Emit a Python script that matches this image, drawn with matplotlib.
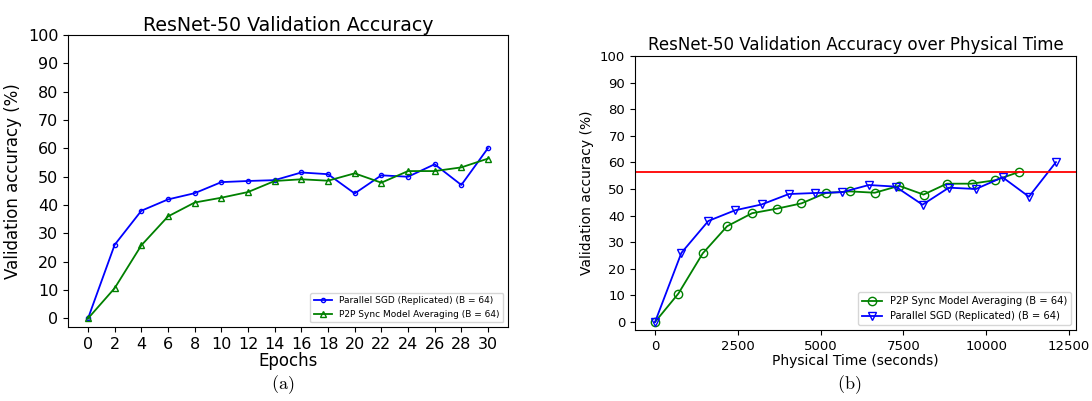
import matplotlib
matplotlib.use('Agg')
import matplotlib.pyplot as plt

# Validation accuracy (%) per epoch
epochs = [0, 2, 4, 6, 8, 10, 12, 14, 16, 18, 20, 22, 24, 26, 28, 30]
sgd_acc = [0.0, 26.0, 38.0, 42.0, 44.2, 48.1, 48.5, 48.8, 51.5, 50.9,
           44.1, 50.5, 50.0, 54.4, 47.1, 60.1]
p2p_acc = [0.0, 10.7, 25.8, 36.0, 40.9, 42.6, 44.6, 48.5, 49.1, 48.6,
           51.2, 47.9, 52.0, 52.0, 53.3, 56.4]

# Wall-clock time (seconds) at which each evaluation happened
p2p_time = [0, 705, 1440, 2176, 2931, 3676, 4422, 5157, 5892, 6638,
            7373, 8108, 8813, 9559, 10274, 10989]
sgd_time = [0, 796, 1611, 2417, 3223, 4039, 4834, 5650, 6456, 7262,
            8078, 8873, 9690, 10496, 11291, 12107]

fig = plt.figure(figsize=(10.92, 4.01), dpi=100)

# (a) accuracy vs epochs
ax1 = fig.add_axes([68/1092, 1-327/401, 440/1092, 292/401])
ax1.plot(epochs, sgd_acc, color='blue', marker='o', ms=3, mfc='none',
         lw=1.3, label='Parallel SGD (Replicated) (B = 64)')
ax1.plot(epochs, p2p_acc, color='green', marker='^', ms=4, mfc='none',
         lw=1.3, label='P2P Sync Model Averaging (B = 64)')
ax1.set_ylim(top=100)
ax1.set_xticks(range(0, 31, 2))
ax1.set_yticks(range(0, 101, 10))
ax1.tick_params(labelsize=11.5)
ax1.set_title('ResNet-50 Validation Accuracy', fontsize=13.7, pad=3)
ax1.set_xlabel('Epochs', fontsize=12, labelpad=0)
ax1.set_ylabel('Validation accuracy (%)', fontsize=12)
ax1.legend(loc='lower right', fontsize=6.5)

# (b) accuracy vs physical time
ax2 = fig.add_axes([635/1092, 1-330/401, 441/1092, 274/401])
ax2.plot(p2p_time, p2p_acc, color='green', marker='o', ms=6, mfc='none',
         lw=1.3, label='P2P Sync Model Averaging (B = 64)')
ax2.plot(sgd_time, sgd_acc, color='blue', marker='v', ms=6, mfc='none',
         lw=1.3, label='Parallel SGD (Replicated) (B = 64)')
ax2.axhline(p2p_acc[-1], color='red', lw=1.3)
ax2.set_ylim(top=100)
ax2.set_yticks(range(0, 101, 10))
ax2.set_xticks(range(0, 12501, 2500))
ax2.tick_params(labelsize=9.5)
ax2.set_title('ResNet-50 Validation Accuracy over Physical Time', fontsize=12, pad=4)
ax2.set_xlabel('Physical Time (seconds)', fontsize=10, labelpad=1)
ax2.set_ylabel('Validation accuracy (%)', fontsize=10)
ax2.legend(loc='lower right', fontsize=7.2)

# subfigure captions
fig.text(283/1092, 1-385/401, r'$\mathrm{(a)}$', fontsize=13, ha='center', va='center',
         math_fontfamily='cm')
fig.text(849/1092, 1-385/401, r'$\mathrm{(b)}$', fontsize=13, ha='center', va='center',
         math_fontfamily='cm')

fig.savefig('out.png', dpi=100)
